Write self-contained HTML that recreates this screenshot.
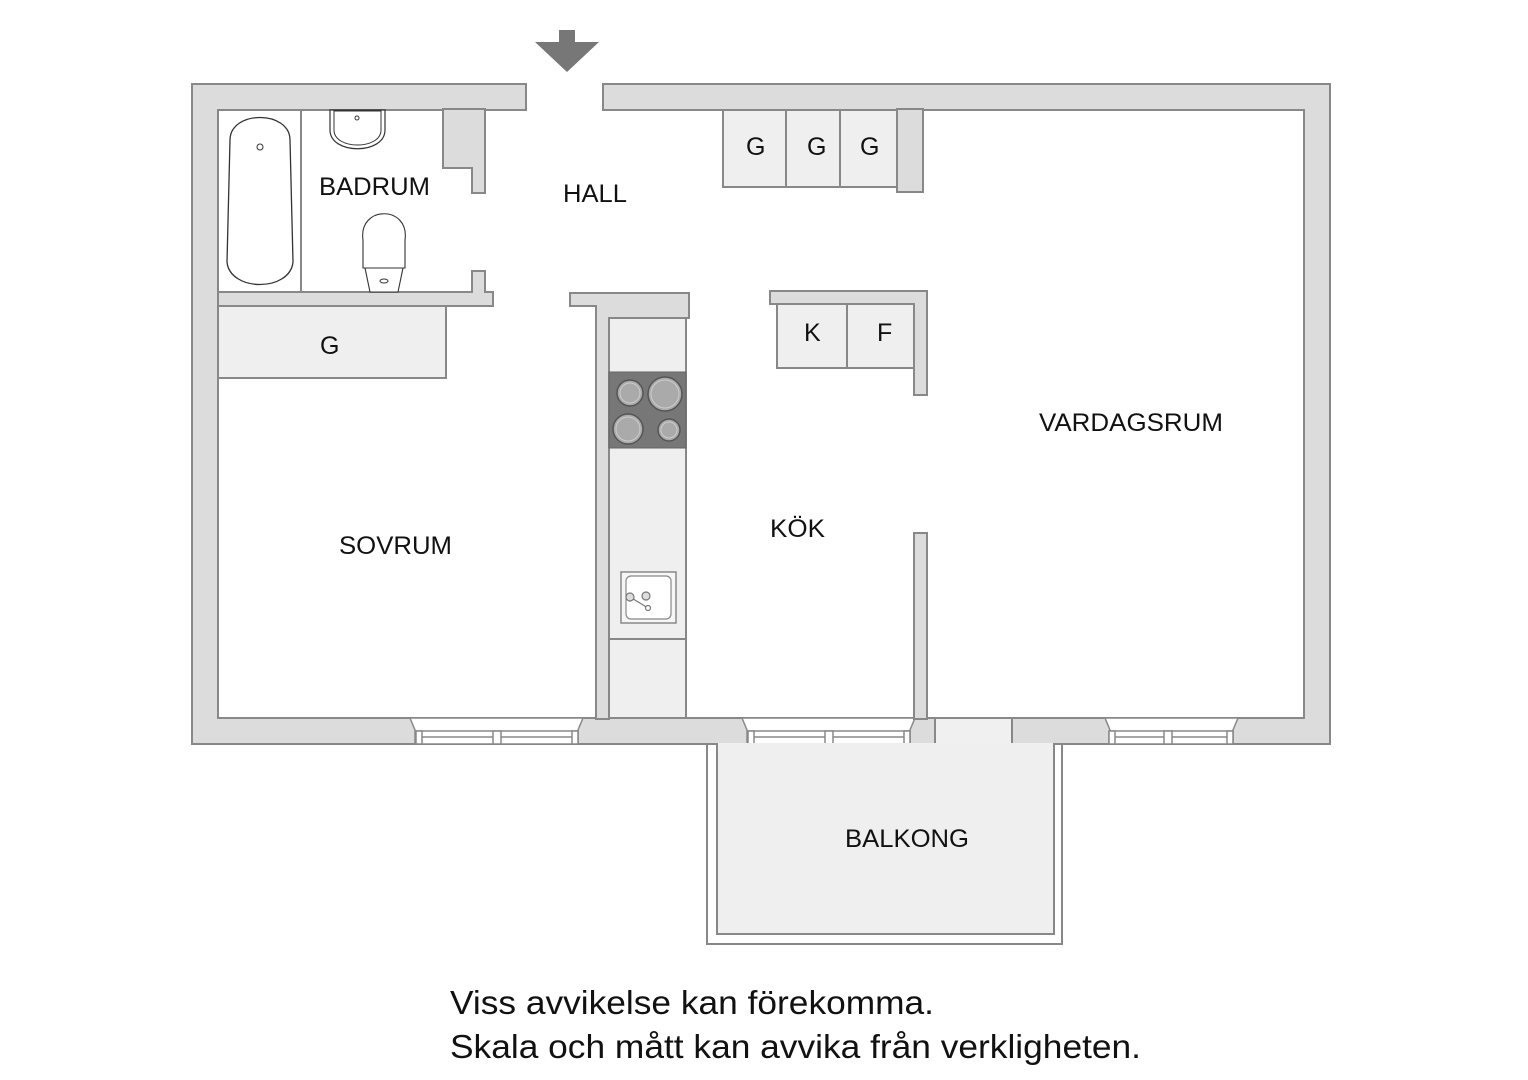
<!DOCTYPE html>
<html><head><style>html,body{margin:0;padding:0;background:#fff}svg{display:block}text{font-family:"Liberation Sans",sans-serif;fill:#111}</style></head><body>
<svg width="1528" height="1080" viewBox="0 0 1528 1080">
<g stroke="#888" stroke-width="2">
<rect x="192" y="84" width="1138" height="660" fill="#dcdcdc"/>
<rect x="218" y="110" width="1086" height="608" fill="#fff"/>
</g>
<rect x="527" y="83" width="75" height="28" fill="#fff"/>
<line x1="526" y1="84" x2="526" y2="110" stroke="#888" stroke-width="2"/>
<line x1="603" y1="84" x2="603" y2="110" stroke="#888" stroke-width="2"/>
<rect x="935" y="719" width="77" height="26" fill="#f0f0f0"/>
<g stroke="#888" stroke-width="2"><line x1="935" y1="718" x2="935" y2="744"/><line x1="1012" y1="718" x2="1012" y2="744"/></g>
<g fill="#fff" stroke="#888" stroke-width="1.5">
<g><path d="M410,718 L583,718 L578,730 L578,744 L415,744 L415,730 Z"/><rect x="416" y="731" width="162" height="13"/><line x1="416" y1="737" x2="578" y2="737"/><rect x="493" y="731" width="8" height="13"/><rect x="416" y="731" width="6" height="13"/><rect x="572" y="731" width="6" height="13"/></g>
<g transform="translate(332,0)"><path d="M410,718 L583,718 L578,730 L578,744 L415,744 L415,730 Z"/><rect x="416" y="731" width="162" height="13"/><line x1="416" y1="737" x2="578" y2="737"/><rect x="493" y="731" width="8" height="13"/><rect x="416" y="731" width="6" height="13"/><rect x="572" y="731" width="6" height="13"/></g>
<g transform="translate(695,0)"><path d="M410,718 L543,718 L538,730 L538,744 L415,744 L415,730 Z"/><rect x="414" y="731" width="124" height="13"/><line x1="414" y1="737" x2="538" y2="737"/><rect x="469" y="731" width="8" height="13"/><rect x="414" y="731" width="6" height="13"/><rect x="532" y="731" width="6" height="13"/></g>
</g>
<g fill="#dcdcdc" stroke="#888" stroke-width="2">
<polygon points="443,109 485,109 485,193 472,193 472,168 443,168"/>
<polygon points="218,292 472,292 472,271 485,271 485,292 493,292 493,306 218,306"/>
<polygon points="570,293 689,293 689,318 609,318 609,719 596,719 596,306 570,306"/>
<polygon points="770,291 927,291 927,395 914,395 914,304 770,304"/>
<rect x="914" y="533" width="13" height="186"/>
<rect x="897" y="109" width="26" height="83"/>
</g>
<g fill="#efefef" stroke="#888" stroke-width="2">
<rect x="218" y="306" width="228" height="72"/>
<rect x="723" y="110" width="174" height="77"/>
<rect x="777" y="304" width="137" height="64"/>
<rect x="609" y="318" width="77" height="400"/>
</g>
<g stroke="#888" stroke-width="2"><line x1="786" y1="110" x2="786" y2="187"/><line x1="840" y1="110" x2="840" y2="187"/><line x1="847" y1="304" x2="847" y2="368"/><line x1="609" y1="639" x2="686" y2="639"/></g>
<rect x="609" y="372" width="77" height="76" fill="#777" stroke="#666"/>
<g fill="#aaa" stroke="#555" stroke-width="1.5">
<circle cx="630" cy="393" r="13"/><circle cx="665" cy="394" r="17"/><circle cx="628" cy="429" r="15"/><circle cx="669" cy="430" r="11"/>
</g>
<g fill="none" stroke="#ccc" stroke-width="1"><circle cx="630" cy="393" r="10"/><circle cx="665" cy="394" r="14"/><circle cx="628" cy="429" r="12"/><circle cx="669" cy="430" r="8"/></g>
<rect x="621" y="572" width="55" height="51" fill="#f6f6f6" stroke="#888" stroke-width="1.5"/>
<rect x="626" y="576" width="45" height="43" rx="5" fill="#fff" stroke="#888" stroke-width="1.2"/>
<g stroke="#777" fill="#ddd" stroke-width="1.2"><line x1="630" y1="597" x2="648" y2="608"/><circle cx="630" cy="597" r="4"/><circle cx="646" cy="596" r="4"/><circle cx="648" cy="608" r="2.5" fill="#fff"/></g>
<rect x="218" y="110" width="83" height="182" fill="#fff" stroke="#888" stroke-width="2"/>
<path d="M230,140 C230,110 290,110 290,140 L293,262 C290,292 230,292 227,262 Z" fill="#fff" stroke="#333" stroke-width="1.3"/>
<circle cx="260" cy="147" r="3" fill="none" stroke="#333"/>
<path d="M330,110 L385,110 L385,130 C385,155 330,155 330,130 Z" fill="#fff" stroke="#333" stroke-width="1.2"/>
<path d="M334,111 L381,111 L381,130 C381,150 334,150 334,130 Z" fill="none" stroke="#333" stroke-width="1"/>
<circle cx="357" cy="118" r="2" fill="none" stroke="#333"/>
<path d="M363,240 C358,205 410,205 405,240 L405,268 L363,268 Z" fill="#fff" stroke="#333" stroke-width="1.1"/>
<path d="M365,268 L403,268 L398,292 L370,292 Z" fill="#fff" stroke="#333" stroke-width="1.1"/>
<ellipse cx="384" cy="281" rx="4" ry="2" fill="none" stroke="#333"/>
<rect x="707" y="744" width="355" height="200" fill="#fff" stroke="#888" stroke-width="2"/>
<rect x="717" y="744" width="337" height="190" fill="#efefef" stroke="#888" stroke-width="2"/>
<rect x="718" y="743" width="335" height="3" fill="#efefef"/>
<rect x="559" y="30" width="16" height="13" fill="#777"/>
<polygon points="535,42 599,42 567,72" fill="#777"/>
<g font-size="25">
<text x="319" y="195" textLength="111" lengthAdjust="spacingAndGlyphs">BADRUM</text>
<text x="563" y="202" textLength="64" lengthAdjust="spacingAndGlyphs">HALL</text>
<text x="746" y="155">G</text><text x="807" y="155">G</text><text x="860" y="155">G</text>
<text x="320" y="354">G</text>
<text x="804" y="341">K</text><text x="877" y="341">F</text>
<text x="1039" y="431" textLength="184" lengthAdjust="spacingAndGlyphs">VARDAGSRUM</text>
<text x="339" y="554" textLength="113" lengthAdjust="spacingAndGlyphs">SOVRUM</text>
<text x="770" y="537" textLength="55" lengthAdjust="spacingAndGlyphs">KÖK</text>
<text x="845" y="847" textLength="124" lengthAdjust="spacingAndGlyphs">BALKONG</text>
</g>
<g font-size="33">
<text x="450" y="1014" textLength="484" lengthAdjust="spacingAndGlyphs">Viss avvikelse kan förekomma.</text>
<text x="450" y="1058" textLength="691" lengthAdjust="spacingAndGlyphs">Skala och mått kan avvika från verkligheten.</text>
</g>
</svg>
</body></html>
